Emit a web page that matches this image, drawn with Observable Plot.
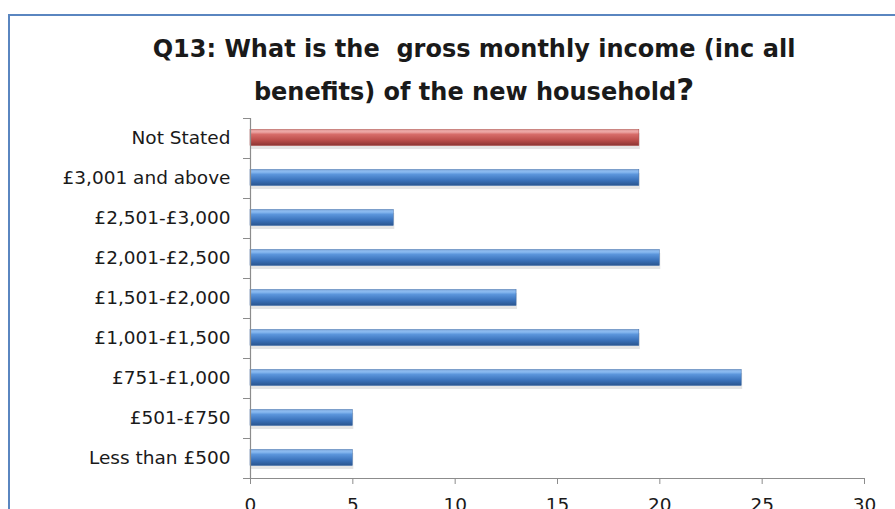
<!DOCTYPE html>
<html>
<head>
<meta charset="utf-8">
<script src="https://cdn.jsdelivr.net/npm/d3@7"></script>
<script src="https://cdn.jsdelivr.net/npm/@observablehq/plot@0.6"></script>
<style>
  html, body { margin: 0; padding: 0; background: #ffffff; }
  #wrap { position: relative; width: 895px; height: 509px; overflow: hidden; }
  #border { position: absolute; left: 8px; top: 14px; width: 1000px; height: 600px;
            border-left: 2px solid #5a86c0; border-top: 2px solid #5a86c0; }
  #title { position: absolute; left: 74px; width: 800px; top: 29px; text-align: center;
           font-family: "DejaVu Sans", sans-serif; font-weight: 700; font-size: 24px;
           line-height: 40px; color: #1a1a1a; }
  #title .q { font-size: 31px; }
  #chart { position: absolute; left: 0; top: 0; }
</style>
</head>
<body>
<div id="wrap">
  <div id="border"></div>
  <div id="chart"></div>
  <div id="title">Q13: What is the&nbsp; gross monthly income (inc all<br>benefits) of the new household<span class="q">?</span></div>
</div>
<script>
const categories = ["Not Stated", "£3,001 and above", "£2,501-£3,000", "£2,001-£2,500", "£1,501-£2,000", "£1,001-£1,500", "£751-£1,000", "£501-£750", "Less than £500"];
const counts = [19, 19, 7, 20, 13, 19, 24, 5, 5];
const highlighted = ["Not Stated"];
const xTicks = [0, 5, 10, 15, 20, 25, 30];

const data = categories.map((c, i) => ({category: c, count: counts[i]}));
const redData = data.filter(d => highlighted.includes(d.category));
const blueData = data.filter(d => !highlighted.includes(d.category));

const axisColor = "#8c8c8c";

const chart = Plot.plot({
  width: 895,
  height: 509,
  marginLeft: 250,
  marginRight: 31,
  marginTop: 118,
  marginBottom: 31,
  style: {fontFamily: "DejaVu Sans, sans-serif", fontSize: "18.5px", color: "#1a1a1a", background: "transparent", overflow: "visible"},
  x: {domain: [0, 30], ticks: xTicks},
  y: {domain: categories, paddingInner: 0.6, paddingOuter: 0.3},
  marks: [
    // soft shadows under the bars
    Plot.barX(data, {x: "count", y: "category", fill: "#000", fillOpacity: 0.1, dy: 3, dx: 1}),
    Plot.barX(blueData, {x: "count", y: "category", fill: "url(#gradBlue)", stroke: "#3a6aa8", strokeWidth: 0.5, dy: -0.5}),
    Plot.barX(redData, {x: "count", y: "category", fill: "url(#gradRed)", stroke: "#a8403d", strokeWidth: 0.5, dy: -0.5}),
    Plot.ruleX([0], {stroke: axisColor, strokeWidth: 1.2}),
    Plot.ruleY([categories[categories.length - 1]], {dy: 20, stroke: axisColor, strokeWidth: 1.2}),
    Plot.axisY({tickSize: 0, tickPadding: 20, label: null, fill: "#1a1a1a"}),
    Plot.axisY(categories, {tickSize: 7, tickFormat: () => "", label: null, dy: 20, stroke: axisColor}),
    Plot.axisY([categories[0]], {tickSize: 7, tickFormat: () => "", label: null, dy: -20, stroke: axisColor}),
    Plot.axisX({ticks: xTicks, tickSize: 6, tickPadding: 13, label: null, stroke: axisColor, fill: "#1a1a1a"})
  ]
});

const svg = d3.select(chart);
const defs = svg.insert("defs", ":first-child");
function grad(id, stops) {
  const g = defs.append("linearGradient").attr("id", id).attr("x1", 0).attr("y1", 0).attr("x2", 0).attr("y2", 1);
  stops.forEach(([o, c]) => g.append("stop").attr("offset", o).attr("stop-color", c));
}
grad("gradBlue", [[0, "#7fa9dd"], [0.15, "#8cbcf2"], [0.3, "#5c96dc"], [0.65, "#3c74bd"], [1, "#2a558f"]]);
grad("gradRed", [[0, "#e09a98"], [0.15, "#eeaaa8"], [0.3, "#d76d6a"], [0.65, "#bd4f4c"], [1, "#8c3533"]]);

document.getElementById("chart").appendChild(chart);
</script>
</body>
</html>
